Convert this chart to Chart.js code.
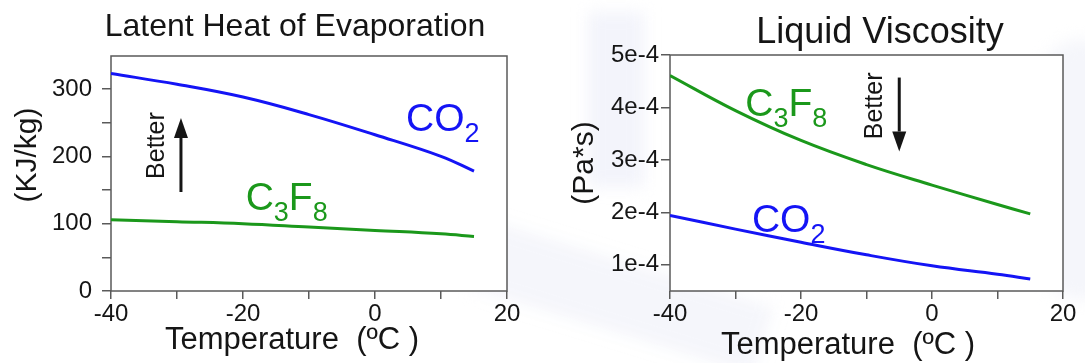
<!DOCTYPE html>
<html>
<head>
<meta charset="utf-8">
<script src="https://cdn.jsdelivr.net/npm/chart.js@4.4.1/dist/chart.umd.min.js"></script>
<style>
  html, body { margin: 0; padding: 0; background: #ffffff; }
  body { width: 1085px; height: 363px; position: relative; overflow: hidden; }
  .panel { position: absolute; top: 0; height: 363px; }
  #left { left: 0; width: 545px; }
  #right { left: 545px; width: 540px; }
  /* filigrane bleu pâle du fond de la diapo */
  .wash { position: absolute; filter: blur(8px); }
  #wash1 { left: 588px; top: 12px; width: 56px; height: 175px; background: #f3f4fb; }
  #wash2 { left: 470px; top: 262px; width: 300px; height: 70px; background: #f5f6fb; transform: rotate(17deg); }
  #wash3 { left: 1040px; top: 40px; width: 80px; height: 260px; background: #f5f6fb; border-radius: 40px; }
</style>
</head>
<body>
<div class="wash" id="wash1"></div>
<div class="wash" id="wash2"></div>
<div class="wash" id="wash3"></div>
<div class="panel" id="left"><canvas id="latent"></canvas></div>
<div class="panel" id="right"><canvas id="visc"></canvas></div>
<script>
// temperatures (ºC) where the curves were read
const temps = [-40, -30, -20, -10, 0, 10, 15];

// Latent heat of evaporation (KJ/kg)
const co2Latent = [323, 307, 288, 262, 232, 200, 178];
const c3f8Latent = [106, 103, 100, 95, 90, 85, 81];

// Liquid viscosity (Pa*s)
const c3f8Visc = [4.61e-4, 3.94e-4, 3.37e-4, 2.91e-4, 2.52e-4, 2.15e-4, 1.97e-4];
const co2Visc = [1.94e-4, 1.68e-4, 1.43e-4, 1.19e-4, 0.98e-4, 0.82e-4, 0.73e-4];

const xTicks = [-40, -30, -20, -10, 0, 10, 20];
const xLabelled = [-40, -20, 0, 20];
const latentTicks = [0, 50, 100, 150, 200, 250, 300];
const latentLabelled = [0, 100, 200, 300];
const viscTicks = [1e-4, 2e-4, 3e-4, 4e-4, 5e-4];

const FONT = '"Liberation Sans", Arial, sans-serif';
const BLUE = '#1414f5';
const GREEN = '#1b981b';
const AXIS = '#5a5a5a';
const INK = '#151515';

function toPoints(xs, ys) {
    return xs.map((x, i) => ({ x: x, y: ys[i] }));
}

// texte libre : titres, unités, étiquettes des courbes, flèche "Better"
const panelTextPlugin = {
    id: 'panelText',
    beforeDraw(chart) {
        const { ctx, chartArea } = chart;
        ctx.save();
        ctx.fillStyle = '#ffffff';
        ctx.fillRect(chartArea.left, chartArea.top, chartArea.right - chartArea.left, chartArea.bottom - chartArea.top);
        ctx.restore();
    },
    beforeDatasetsDraw(chart) {
        const { ctx, chartArea } = chart;
        ctx.save();
        ctx.strokeStyle = AXIS;
        ctx.lineWidth = 1.5;
        ctx.strokeRect(chartArea.left, chartArea.top, chartArea.right - chartArea.left, chartArea.bottom - chartArea.top);
        ctx.restore();
    },
    afterDraw(chart) {
        const opts = chart.config.options.plugins.panelText;
        if (!opts) return;
        const { ctx, scales } = chart;
        const px = v => scales.x.getPixelForValue(v);
        const py = v => scales.y.getPixelForValue(v);

        ctx.save();
        ctx.fillStyle = INK;
        ctx.textBaseline = 'alphabetic';
        ctx.textAlign = 'center';

        ctx.font = `${opts.title.size}px ${FONT}`;
        ctx.fillText(opts.title.text, opts.title.x, opts.title.y);

        ctx.font = `31px ${FONT}`;
        ctx.fillText(opts.xTitle.text, opts.xTitle.x, opts.xTitle.y);

        ctx.save();
        ctx.translate(opts.yTitle.x, opts.yTitle.y);
        ctx.rotate(-Math.PI / 2);
        ctx.textBaseline = 'middle';
        ctx.font = `30px ${FONT}`;
        ctx.fillText(opts.yTitle.text, 0, 0);
        ctx.restore();

        // étiquettes chimiques avec indices
        ctx.textAlign = 'left';
        opts.labels.forEach(lab => {
            let x = px(lab.x);
            const y = py(lab.y);
            ctx.fillStyle = lab.color;
            lab.parts.forEach(([txt, sub]) => {
                ctx.font = sub ? `27px ${FONT}` : `39px ${FONT}`;
                ctx.fillText(txt, x, sub ? y + 11 : y);
                x += ctx.measureText(txt).width;
            });
        });

        // "Better" + flèche
        const b = opts.better;
        ctx.fillStyle = INK;
        ctx.save();
        ctx.translate(px(b.x), py(b.y));
        ctx.rotate(-Math.PI / 2);
        ctx.font = `25px ${FONT}`;
        ctx.textAlign = 'center';
        ctx.textBaseline = 'middle';
        ctx.fillText('Better', 0, 0);
        ctx.restore();

        const ax = px(b.arrowX);
        const yTail = py(b.from);
        const yTip = py(b.to);
        const dir = yTip < yTail ? -1 : 1;
        const head = 20;
        ctx.strokeStyle = INK;
        ctx.lineWidth = 3;
        ctx.beginPath();
        ctx.moveTo(ax, yTail);
        ctx.lineTo(ax, yTip - dir * head);
        ctx.stroke();
        ctx.beginPath();
        ctx.moveTo(ax, yTip);
        ctx.lineTo(ax - 7, yTip - dir * head);
        ctx.lineTo(ax + 7, yTip - dir * head);
        ctx.closePath();
        ctx.fill();
        ctx.restore();
    }
};

Chart.register(panelTextPlugin);

function lineDataset(label, data, color) {
    return {
        label: label,
        data: data,
        borderColor: color,
        backgroundColor: color,
        borderWidth: 3,
        pointRadius: 0,
        tension: 0.4,
        fill: false
    };
}

function xScale() {
    return {
        type: 'linear',
        min: -40,
        max: 20,
        afterFit: s => { s.height = 72; },
        afterBuildTicks: s => { s.ticks = xTicks.map(v => ({ value: v })); },
        border: { display: false },
        grid: { drawOnChartArea: false, drawTicks: true, tickLength: 8, color: AXIS, lineWidth: 1.5 },
        ticks: {
            autoSkip: false,
            maxRotation: 0,
            padding: 1,
            color: INK,
            font: { family: FONT, size: 24 },
            callback: v => xLabelled.includes(v) ? String(v) : ''
        }
    };
}

function buildChart(canvasId, cfg) {
    return new Chart(document.getElementById(canvasId), {
        type: 'line',
        data: { datasets: cfg.datasets },
        options: {
            responsive: true,
            maintainAspectRatio: false,
            animation: false,
            layout: { padding: cfg.padding },
            scales: {
                x: xScale(),
                y: {
                    type: 'linear',
                    min: cfg.yMin,
                    max: cfg.yMax,
                    afterFit: s => { s.width = cfg.yWidth; },
                    afterBuildTicks: s => { s.ticks = cfg.yTicks.map(v => ({ value: v })); },
                    border: { display: false },
                    grid: { drawOnChartArea: false, drawTicks: true, tickLength: 9, color: AXIS, lineWidth: 1.5 },
                    ticks: {
                        autoSkip: false,
                        padding: cfg.yPad,
                        color: INK,
                        font: { family: FONT, size: 24 },
                        callback: cfg.yLabel
                    }
                }
            },
            plugins: {
                legend: { display: false },
                tooltip: { enabled: false },
                panelText: cfg.text
            }
        }
    });
}

buildChart('latent', {
    datasets: [
        lineDataset('CO2', toPoints(temps, co2Latent), BLUE),
        lineDataset('C3F8', toPoints(temps, c3f8Latent), GREEN)
    ],
    padding: { left: 0, right: 38, top: 56, bottom: 0 },
    yWidth: 111,
    yMin: 0,
    yMax: 349,
    yTicks: latentTicks,
    yPad: 10,
    yLabel: v => latentLabelled.includes(v) ? String(v) : '',
    text: {
        title: { text: 'Latent Heat of Evaporation', x: 295, y: 36, size: 32 },
        xTitle: { text: 'Temperature  (ºC )', x: 292, y: 349 },
        yTitle: { text: '(KJ/kg)', x: 28, y: 155 },
        labels: [
            { parts: [['CO', false], ['2', true]], color: BLUE, x: 4.7, y: 238 },
            { parts: [['C', false], ['3', true], ['F', false], ['8', true]], color: GREEN, x: -19.6, y: 120 }
        ],
        better: { x: -33, y: 216, arrowX: -29.4, from: 147, to: 257 }
    }
});

buildChart('visc', {
    datasets: [
        lineDataset('C3F8', toPoints(temps, c3f8Visc), GREEN),
        lineDataset('CO2', toPoints(temps, co2Visc), BLUE)
    ],
    padding: { left: 0, right: 22, top: 55, bottom: 0 },
    yWidth: 125,
    yMin: 0.5e-4,
    yMax: 5e-4,
    yTicks: viscTicks,
    yPad: 2,
    yLabel: v => `${Math.round(v * 1e4)}e-4`,
    text: {
        title: { text: 'Liquid Viscosity', x: 880 - 545, y: 43, size: 36 },
        xTitle: { text: 'Temperature  (ºC )', x: 848 - 545, y: 354 },
        yTitle: { text: '(Pa*s)', x: 585 - 545, y: 163 },
        labels: [
            { parts: [['C', false], ['3', true], ['F', false], ['8', true]], color: GREEN, x: -28.5, y: 3.84e-4 },
            { parts: [['CO', false], ['2', true]], color: BLUE, x: -27.5, y: 1.62e-4 }
        ],
        better: { x: -8.7, y: 4.03e-4, arrowX: -5, from: 4.57e-4, to: 3.16e-4 }
    }
});
</script>
</body>
</html>
